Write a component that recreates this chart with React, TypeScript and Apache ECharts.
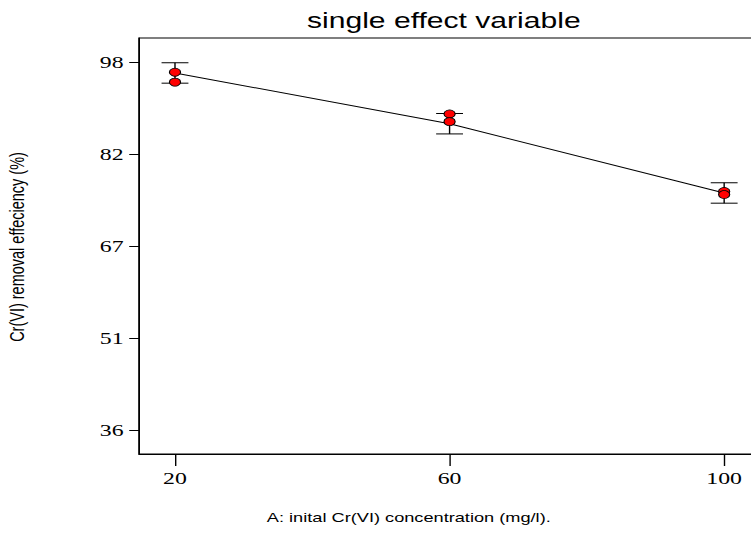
import React, { useEffect, useRef } from "react";
import * as echarts from "echarts";

// The reference picture is horizontally stretched; the chart is drawn narrower and stretched.
const STRETCH = 1.4;
const VIEW_W = 751;
const VIEW_H = 539;
const WIDTH = 760 / STRETCH; // plot runs slightly past the right edge, as in the reference
const HEIGHT = 539;

const factorLevels = [20, 60, 100];
const predicted = [96.05, 87.5, 75.83];
const lsdLow = [94.33, 85.78, 74.11];
const lsdHigh = [97.77, 89.22, 77.55];
const designX = [20, 20, 60, 60, 100, 100];
const designY = [96.18, 94.5, 89.14, 87.85, 76.08, 75.57];
const yTickValues = [35.9, 51.4, 66.9, 82.4, 97.9];
const yTickLabels = ["36", "51", "67", "82", "98"];
const xTickValues = [20, 60, 100];
const xTickLabels = ["20", "60", "100"];

const titleText = "single effect variable";
const xName = "A: inital Cr(VI) concentration (mg/l).";
const yName = "Cr(VI) removal effeciency (%)";

export default function App() {
  const ref = useRef<HTMLDivElement>(null);
  useEffect(() => {
    if (!ref.current) return;
    const chart = echarts.init(ref.current, null, { renderer: "svg" });
    const black = "#000";
    const option: any = {
      animation: false,
      backgroundColor: "#fff",
      grid: {
        left: 99.3,
        right: 0,
        top: 38,
        bottom: 85,
        show: true,
        borderColor: black,
        borderWidth: 1,
        backgroundColor: "transparent",
      },
      xAxis: {
        type: "value",
        min: 14.76,
        max: 105.25,
        axisLine: { show: true, onZero: false, lineStyle: { color: black, width: 1 } },
        axisTick: { show: true, customValues: xTickValues, length: 12, lineStyle: { color: black } },
        axisLabel: {
          show: true,
          customValues: xTickValues,
          formatter: (v: number) => xTickLabels[xTickValues.indexOf(v)] ?? String(v),
          margin: 16,
          color: black,
          fontFamily: "Liberation Serif",
          fontSize: 17,
        },
        splitLine: { show: false },
      },
      yAxis: {
        type: "value",
        min: 31.85,
        max: 101.94,
        axisLine: { show: true, onZero: false, lineStyle: { color: black, width: 1 } },
        axisTick: { show: true, customValues: yTickValues, length: 7, lineStyle: { color: black } },
        axisLabel: {
          show: true,
          customValues: yTickValues,
          formatter: (v: number) => {
            const i = yTickValues.findIndex((t) => Math.abs(t - v) < 1e-6);
            return i >= 0 ? yTickLabels[i] : String(Math.round(v));
          },
          margin: 11,
          color: black,
          fontFamily: "Liberation Serif",
          fontSize: 17,
        },
        splitLine: { show: false },
      },
      graphic: [
        {
          type: "text",
          x: 317,
          y: 21,
          style: {
            text: titleText,
            fill: black,
            font: "21.5px 'Liberation Sans', Arial, sans-serif",
            textAlign: "center",
            textVerticalAlign: "middle",
          },
        },
        {
          type: "text",
          x: 292,
          y: 517,
          style: {
            text: xName,
            fill: black,
            font: "13px 'Liberation Sans', Arial, sans-serif",
            textAlign: "center",
            textVerticalAlign: "middle",
          },
        },
        {
          type: "text",
          x: 12.1,
          y: 247,
          rotation: Math.PI / 2,
          style: {
            text: yName,
            fill: black,
            font: "14.5px 'Liberation Sans', Arial, sans-serif",
            textAlign: "center",
            textVerticalAlign: "middle",
          },
        },
      ],
      series: [
        {
          type: "line",
          data: factorLevels.map((x, i) => [x, predicted[i]]),
          showSymbol: false,
          symbol: "none",
          lineStyle: { color: black, width: 1 },
          z: 2,
        },
        {
          type: "custom",
          data: factorLevels.map((x, i) => [x, lsdLow[i], lsdHigh[i]]),
          encode: { x: 0, y: [1, 2] },
          z: 3,
          renderItem: (params: any, api: any) => {
            const x = api.value(0);
            const pLo = api.coord([x, api.value(1)]);
            const pHi = api.coord([x, api.value(2)]);
            const hw = 9.6;
            const style = { stroke: black, lineWidth: 1, fill: "none" };
            return {
              type: "group",
              children: [
                { type: "line", shape: { x1: pLo[0], y1: pLo[1], x2: pHi[0], y2: pHi[1] }, style },
                { type: "line", shape: { x1: pLo[0] - hw, y1: pLo[1], x2: pLo[0] + hw, y2: pLo[1] }, style },
                { type: "line", shape: { x1: pHi[0] - hw, y1: pHi[1], x2: pHi[0] + hw, y2: pHi[1] }, style },
              ],
            };
          },
        },
        {
          type: "scatter",
          data: designX.map((x, i) => [x, designY[i]]),
          symbol: "circle",
          symbolSize: 8,
          itemStyle: { color: "#ff0000", borderColor: "#000", borderWidth: 0.8, opacity: 1 },
          z: 4,
        },
      ],
    };
    chart.setOption(option);
    return () => chart.dispose();
  }, []);
  return (
    <div
      style={{
        position: "absolute",
        left: 0,
        top: 0,
        width: VIEW_W,
        height: VIEW_H,
        overflow: "hidden",
        background: "#fff",
      }}
    >
      <div
        ref={ref}
        style={{
          position: "absolute",
          left: 0,
          top: 0,
          width: WIDTH,
          height: HEIGHT,
          transform: `scaleX(${STRETCH})`,
          transformOrigin: "0 0",
        }}
      />
    </div>
  );
}
